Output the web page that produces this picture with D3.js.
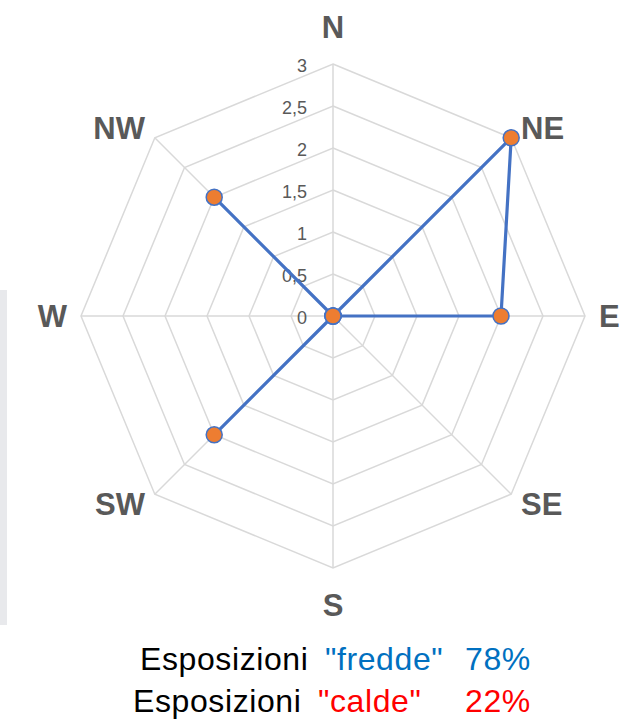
<!DOCTYPE html>
<html>
<head>
<meta charset="utf-8">
<script src="https://cdn.jsdelivr.net/npm/d3@7"></script>
<style>
  body { margin: 0; background: #fff; }
  svg { display: block; }
</style>
</head>
<body>
<script>
// data
var directions = ["N", "NE", "E", "SE", "S", "SW", "W", "NW"];
var values = [0, 3, 2, 0, 0, 2, 0, 2];
var ticks = [0, 0.5, 1, 1.5, 2, 2.5, 3];
var tickLabels = ["0", "0,5", "1", "1,5", "2", "2,5", "3"];

var width = 641;
var height = 726;
var cx = 333, cy = 316;

var svg = d3.select("body")
    .append("svg")
    .attr("width", width)
    .attr("height", height);

// faint grey strip on the left edge of the screenshot
svg.append("rect")
    .attr("x", 0).attr("y", 290)
    .attr("width", 7).attr("height", 335)
    .attr("fill", "#e8e9ec");

var r = d3.scaleLinear().domain([0, 3]).range([0, 252]);
var angle = d3.scalePoint().domain(directions).range([0, 2 * Math.PI * 7 / 8]);

function px(dir, v) { return cx + r(v) * Math.sin(angle(dir)); }
function py(dir, v) { return cy - r(v) * Math.cos(angle(dir)); }

var g = svg.append("g");

// octagon rings
g.append("g")
    .selectAll("path")
    .data(ticks.slice(1))
    .join("path")
    .attr("d", t => d3.line()(directions.map(d => [px(d, t), py(d, t)])) + "Z")
    .attr("fill", "none")
    .attr("stroke", "#d9d9d9")
    .attr("stroke-width", 1.5);

// spokes
g.append("g")
    .selectAll("line")
    .data(directions)
    .join("line")
    .attr("x1", cx).attr("y1", cy)
    .attr("x2", d => px(d, 3))
    .attr("y2", d => py(d, 3))
    .attr("stroke", "#d9d9d9")
    .attr("stroke-width", 1.5);

// tick labels
g.append("g")
    .selectAll("text")
    .data(ticks)
    .join("text")
    .attr("x", cx - 26)
    .attr("y", t => cy - r(t) + 2)
    .attr("dy", "0.35em")
    .attr("text-anchor", "end")
    .attr("font-family", "Liberation Sans, Arial, sans-serif")
    .attr("font-size", 18)
    .attr("fill", "#595959")
    .text((t, i) => tickLabels[i]);

// category labels
g.append("g")
    .selectAll("text")
    .data(directions)
    .join("text")
    .attr("x", d => cx + (r(3) + 14) * Math.sin(angle(d)))
    .attr("y", d => {
        var c = Math.cos(angle(d));
        var pad = Math.abs(c) > 0.99 ? 37 : 14;
        return cy - (r(3) + pad) * c;
    })
    .attr("dy", "0.35em")
    .attr("text-anchor", d => {
        var s = Math.sin(angle(d));
        return s > 0.01 ? "start" : (s < -0.01 ? "end" : "middle");
    })
    .attr("font-family", "Liberation Sans, Arial, sans-serif")
    .attr("font-weight", "bold")
    .attr("font-size", 31)
    .attr("fill", "#595959")
    .text(d => d);

// series line
var pts = directions.map((d, i) => [px(d, values[i]), py(d, values[i])]);
g.append("path")
    .attr("d", d3.line()(pts) + "Z")
    .attr("fill", "none")
    .attr("stroke", "#4472c4")
    .attr("stroke-width", 3.2)
    .attr("stroke-linejoin", "round");

g.append("g")
    .selectAll("circle")
    .data(directions)
    .join("circle")
    .attr("cx", (d, i) => px(d, values[i]))
    .attr("cy", (d, i) => py(d, values[i]))
    .attr("r", 8)
    .attr("fill", "#ed7d31")
    .attr("stroke", "#4472c4")
    .attr("stroke-width", 1.5);

// caption below the chart
var caption = [
    {y: 670, parts: [[140, "Esposizioni", "#000"], [325, '"fredde"', "#0070c0"], [465, "78%", "#0070c0"]]},
    {y: 712, parts: [[133, "Esposizioni", "#000"], [318, '"calde"', "#ff0000"], [465, "22%", "#ff0000"]]}
];

caption.forEach(line => {
    var t = svg.append("text")
        .attr("y", line.y)
        .attr("font-family", "Liberation Sans, Arial, sans-serif")
        .attr("font-size", 32)
        .attr("letter-spacing", 0.6);
    line.parts.forEach(p => {
        t.append("tspan")
            .attr("x", p[0])
            .attr("fill", p[2])
            .text(p[1]);
    });
});
</script>
</body>
</html>
